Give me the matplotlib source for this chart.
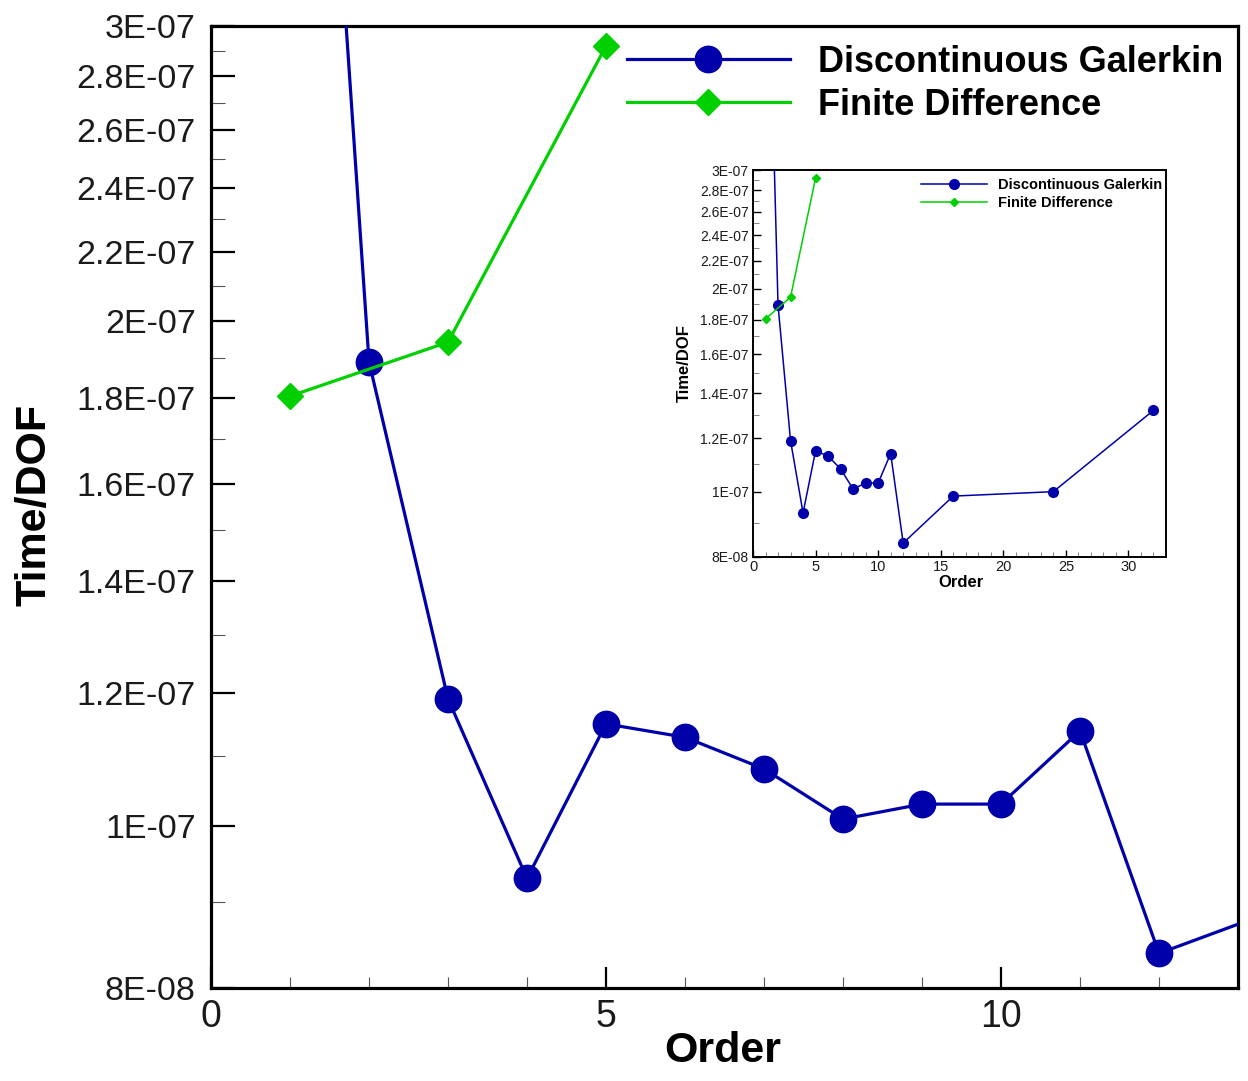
import matplotlib
matplotlib.use("Agg")
import matplotlib.pyplot as plt
from matplotlib.ticker import FixedLocator, FixedFormatter, MultipleLocator, NullFormatter

# Timing per degree of freedom vs. polynomial order
dg_order = [1, 2, 3, 4, 5, 6, 7, 8, 9, 10, 11, 12, 16, 24, 32]
dg_time = [9.3e-07, 1.891e-07, 1.19e-07, 9.30e-08, 1.150e-07, 1.129e-07, 1.081e-07,
           1.009e-07, 1.030e-07, 1.030e-07, 1.139e-07, 8.39e-08, 9.85e-08, 1.00e-07, 1.32e-07]
fd_order = [1, 3, 5]
fd_time = [1.804e-07, 1.943e-07, 2.919e-07]

series_labels = ["Discontinuous Galerkin", "Finite Difference"]

y_major = [8e-08, 1e-07, 1.2e-07, 1.4e-07, 1.6e-07, 1.8e-07, 2e-07, 2.2e-07, 2.4e-07, 2.6e-07, 2.8e-07, 3e-07]
y_major_labels = ["8E-08", "1E-07", "1.2E-07", "1.4E-07", "1.6E-07", "1.8E-07", "2E-07",
                  "2.2E-07", "2.4E-07", "2.6E-07", "2.8E-07", "3E-07"]
y_minor = [9e-08, 1.1e-07, 1.3e-07, 1.5e-07, 1.7e-07, 1.9e-07, 2.1e-07, 2.3e-07, 2.5e-07, 2.7e-07, 2.9e-07]

BLUE = "#0000AA"
GREEN = "#00D000"
REG = ["Liberation Sans", "DejaVu Sans"]

fig = plt.figure(figsize=(12.48, 10.81), dpi=100)


def style_axes(ax, xmax, xmajor, ytick_fs, xtick_fs, spine_lw, maj_len, min_len_y,
               min_len_x, tick_w, pad_y, pad_x):
    ax.set_yscale("log")
    ax.set_xlim(0, xmax)
    ax.set_ylim(8e-08, 3e-07)
    ax.yaxis.set_major_locator(FixedLocator(y_major))
    ax.yaxis.set_major_formatter(FixedFormatter(y_major_labels))
    ax.yaxis.set_minor_locator(FixedLocator(y_minor))
    ax.yaxis.set_minor_formatter(NullFormatter())
    ax.xaxis.set_major_locator(MultipleLocator(xmajor))
    ax.xaxis.set_minor_locator(MultipleLocator(1))
    for s in ax.spines.values():
        s.set_linewidth(spine_lw)
    ax.tick_params(which="both", direction="in", top=False, right=False)
    ax.tick_params(axis="y", which="major", length=maj_len, width=tick_w, pad=pad_y)
    ax.tick_params(axis="y", which="minor", length=min_len_y, width=tick_w * 0.5, color="#555555")
    ax.tick_params(axis="x", which="major", length=maj_len * 0.9, width=tick_w, pad=pad_x)
    ax.tick_params(axis="x", which="minor", length=min_len_x, width=tick_w * 0.5, color="#555555")
    for lab in ax.get_yticklabels():
        lab.set_family(REG)
        lab.set_fontsize(ytick_fs)
        lab.set_color("#1a1a1a")
    for lab in ax.get_xticklabels():
        lab.set_family(REG)
        lab.set_fontsize(xtick_fs)
        lab.set_color("#1a1a1a")


# Main panel
ax = fig.add_axes([0.1691, 0.0860, 0.8229, 0.8900])
ax.plot(dg_order, dg_time, color=BLUE, lw=2.3, marker="o", ms=19, mec=BLUE, mfc=BLUE,
        label=series_labels[0], zorder=3)
ax.plot(fd_order, fd_time, color=GREEN, lw=2.3, marker="D", ms=13, mec=GREEN, mfc=GREEN,
        label=series_labels[1], zorder=4)
style_axes(ax, 13, 5, 24.5, 27, 2.3, 17, 10, 8, 1.6, 11, 8)
ax.set_xlabel("Order", fontsize=31, fontweight="bold", family=REG)
ax.set_ylabel("Time/DOF", fontsize=31, fontweight="bold", family=REG)
ax.xaxis.set_label_coords(0.4985, -0.0655)
ax.xaxis.label.set_verticalalignment("center")
ax.yaxis.set_label_coords(-0.172, 0.502)
ax.yaxis.label.set_verticalalignment("center")
ax.yaxis.label.set_horizontalalignment("center")
ax.legend(loc="upper left", bbox_to_anchor=(627 / 1248, 1 - 45 / 1081),
          bbox_transform=fig.transFigure, frameon=False,
          prop={"family": REG, "weight": "bold", "size": 26},
          handlelength=4.5, handletextpad=0.8, labelspacing=0.22,
          borderpad=0, borderaxespad=0)

# Inset panel with the full range of orders
axi = fig.add_axes([753 / 1248, 1 - 557 / 1081, 413 / 1248, 387 / 1081])
axi.set_facecolor("white")
axi.plot(dg_order, dg_time, color=BLUE, lw=1.1, marker="o", ms=7, mec=BLUE, mfc=BLUE,
         label=series_labels[0], zorder=3)
axi.plot(fd_order, fd_time, color=GREEN, lw=1.1, marker="D", ms=4.2, mec=GREEN, mfc=GREEN,
         label=series_labels[1], zorder=4)
style_axes(axi, 33, 5, 10, 10.5, 1.4, 6, 4, 3.5, 1.0, 3, 2)
axi.set_xlabel("Order", fontsize=12, fontweight="bold", family=REG)
axi.set_ylabel("Time/DOF", fontsize=12, fontweight="bold", family=REG)
axi.xaxis.set_label_coords(0.503, -0.067)
axi.xaxis.label.set_verticalalignment("center")
axi.yaxis.set_label_coords(-0.165, 0.5)
axi.yaxis.label.set_verticalalignment("center")
axi.yaxis.label.set_horizontalalignment("center")
axi.legend(loc="upper left", bbox_to_anchor=(921 / 1248, 1 - 178 / 1081),
           bbox_transform=fig.transFigure, frameon=False,
           prop={"family": REG, "weight": "bold", "size": 10.5},
           handlelength=4.5, handletextpad=0.8, labelspacing=0.3,
           borderpad=0, borderaxespad=0)

fig.savefig("out.png", dpi=100, facecolor="white")
